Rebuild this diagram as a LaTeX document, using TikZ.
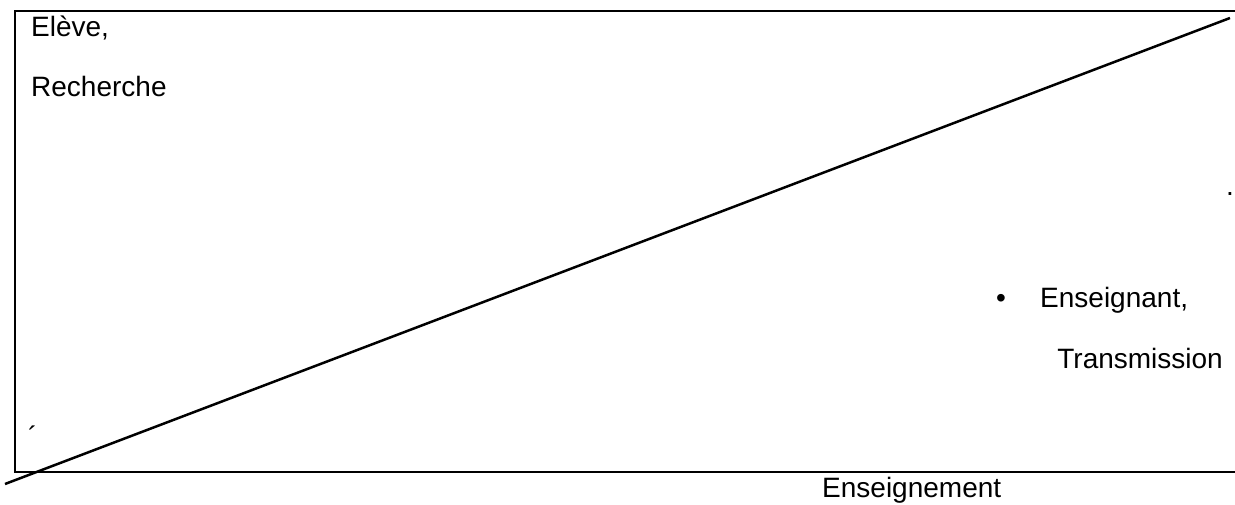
\documentclass[tikz,border=0pt]{standalone}
\usepackage{fontspec}
\setmainfont{Liberation Sans}
\begin{document}
\begin{tikzpicture}[x=1pt,y=-1pt,
  txt/.style={inner sep=0pt,font=\fontsize{28}{32}\selectfont},
  frame/.style={line width=2.5pt}]
\useasboundingbox (0,0) rectangle (1235,505);
\coordinate (tl) at (15,11);
\coordinate (tr) at (1240,11);
\coordinate (bl) at (15,472);
\coordinate (br) at (1240,472);
\draw[frame] (tr) -- (tl) -- (bl) -- (br);
\coordinate (d1) at (5,484);
\coordinate (d2) at (1230,18);
\draw[frame] (d1) -- (d2);
\node[txt,anchor=base west] (eleve) at (31,37) {Elève,};
\node[txt,anchor=base west] (rech) at (31,97) {Recherche};
\node[txt,anchor=base] (dot) at (1230,196) {.};
\node[txt,anchor=base] (bul) at (1001,308) {•};
\node[txt,anchor=base west] (ens) at (1040,308) {Enseignant,};
\node[txt,anchor=base east] (trans) at (1223,368) {Transmission};
\node[txt,anchor=base west] (acc) at (28,446) {´};
\node[txt,anchor=base west] (ensm) at (822,497) {Enseignement};
\end{tikzpicture}
\end{document}
